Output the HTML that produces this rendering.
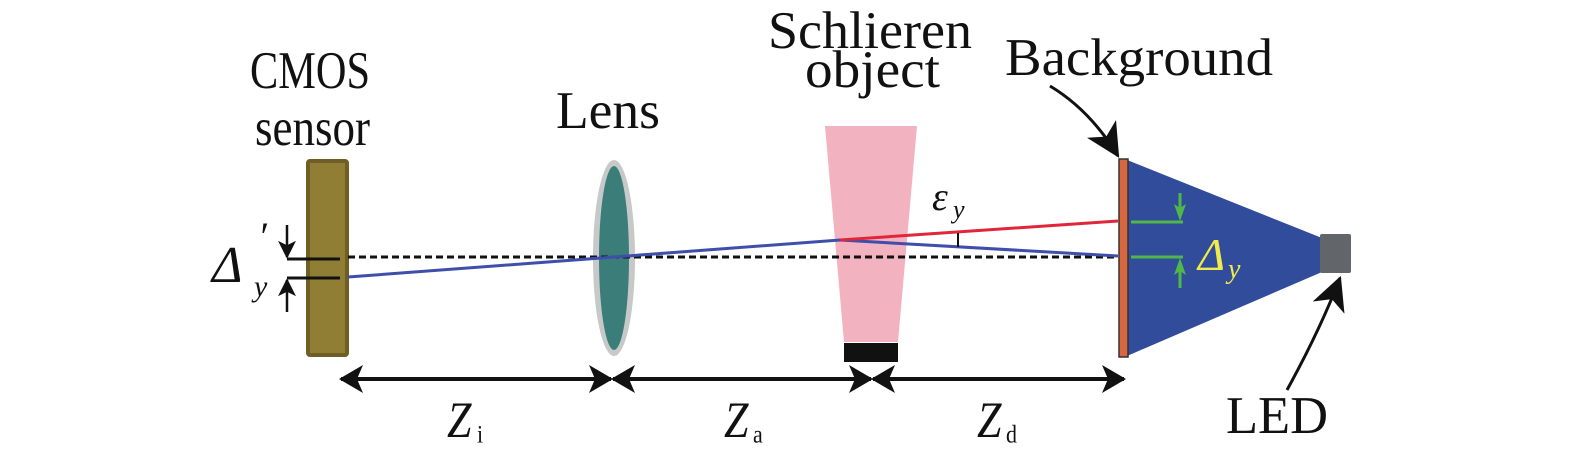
<!DOCTYPE html>
<html><head><meta charset="utf-8"><style>
html,body{margin:0;padding:0;background:#fff;width:1575px;height:456px;overflow:hidden}
text{font-family:"Liberation Serif",serif;fill:#111}
</style></head><body>
<svg width="1575" height="456" viewBox="0 0 1575 456" xmlns="http://www.w3.org/2000/svg">
<defs>
<marker id="ah" viewBox="0 0 24 28" refX="22" refY="14" markerWidth="24" markerHeight="28" markerUnits="userSpaceOnUse" orient="auto"><path d="M0,0 L24,14 L0,28 L6,14 Z" fill="#111"/></marker>
<marker id="sa" viewBox="0 0 20 20" refX="18" refY="10" markerWidth="18" markerHeight="18" markerUnits="userSpaceOnUse" orient="auto"><path d="M0,0 L20,10 L0,20 L5,10 Z" fill="#111"/></marker>
<marker id="big" viewBox="0 0 30 30" refX="28" refY="15" markerWidth="34" markerHeight="34" markerUnits="userSpaceOnUse" orient="auto"><path d="M0,0 L30,15 L0,30 L8,15 Z" fill="#111"/></marker>
</defs>
<!-- labels -->
<g transform="scale(1,1.15)">
<text x="250" y="76.5" font-size="46" textLength="120" lengthAdjust="spacingAndGlyphs">CMOS</text>
<text x="255" y="126" font-size="46" textLength="115" lengthAdjust="spacingAndGlyphs">sensor</text>
<text x="556" y="111.3" font-size="46" textLength="104" lengthAdjust="spacingAndGlyphs">Lens</text>
<text x="768" y="41.7" font-size="46" textLength="204" lengthAdjust="spacingAndGlyphs">Schlieren</text>
<text x="805" y="75.5" font-size="46" textLength="135" lengthAdjust="spacingAndGlyphs">object</text>
<text x="1005" y="65.2" font-size="46" textLength="268" lengthAdjust="spacingAndGlyphs">Background</text>
<text x="1226" y="376.5" font-size="46" textLength="102" lengthAdjust="spacingAndGlyphs">LED</text>
<text x="447" y="380" font-size="44" font-style="italic">Z</text><text x="477" y="385" font-size="22">i</text>
<text x="724" y="380" font-size="44" font-style="italic">Z</text><text x="753" y="385" font-size="22">a</text>
<text x="977" y="380" font-size="44" font-style="italic">Z</text><text x="1006" y="385" font-size="22">d</text>
</g>
<!-- sensor -->
<rect x="308" y="161" width="39" height="194" fill="#8f7e33" stroke="#6f5f25" stroke-width="4" rx="2"/>
<!-- lens -->
<ellipse cx="614" cy="258" rx="21" ry="98" fill="#c6c9c8"/>
<ellipse cx="614" cy="258" rx="15" ry="92" fill="#3a7d79"/>
<!-- schlieren -->
<polygon points="825,126 917,126 898,342 844,342" fill="#f3b2bf"/>
<rect x="844" y="343" width="54" height="19" fill="#111"/>
<!-- background triangle -->
<polygon points="1127,160 1322,238 1322,272 1127,356" fill="#324c9c"/>
<rect x="1119" y="159" width="9" height="198" fill="#d8663e" stroke="#333" stroke-width="1.5"/>
<rect x="1320" y="234" width="31" height="39" fill="#62666b" rx="2"/>
<!-- rays -->
<line x1="348" y1="257" x2="1118" y2="257" stroke="#111" stroke-width="3" stroke-dasharray="7,4"/>
<polyline points="348,277 840,240 1118,256" fill="none" stroke="#3e4eaa" stroke-width="3"/>
<line x1="840" y1="240" x2="1118" y2="221" stroke="#e0263a" stroke-width="3"/>
<line x1="958" y1="233" x2="958" y2="247" stroke="#111" stroke-width="2"/>
<text x="932" y="210" font-size="40" font-style="italic">ε</text><text x="953" y="218" font-size="26" font-style="italic">y</text>
<!-- green markers -->
<g stroke="#4fb848" stroke-width="3">
<line x1="1131" y1="222" x2="1183" y2="222"/>
<line x1="1131" y1="257" x2="1183" y2="257"/>
<line x1="1180" y1="193" x2="1180" y2="210"/>
<line x1="1180" y1="270" x2="1180" y2="288"/>
</g>
<polygon points="1174,204 1180,221 1186,204 1180,208" fill="#4fb848"/>
<polygon points="1174,275 1180,258 1186,275 1180,271" fill="#4fb848"/>
<text x="1198" y="270" font-size="46" font-style="italic" style="fill:#f0ea4a">Δ</text><text x="1228" y="278" font-size="28" font-style="italic" style="fill:#f0ea4a">y</text>
<!-- delta' -->
<line x1="287" y1="259" x2="340" y2="259" stroke="#111" stroke-width="3"/>
<line x1="287" y1="278" x2="340" y2="278" stroke="#111" stroke-width="3"/>
<line x1="287" y1="225" x2="287" y2="257" stroke="#111" stroke-width="2.5" marker-end="url(#sa)"/>
<line x1="287" y1="312" x2="287" y2="280" stroke="#111" stroke-width="2.5" marker-end="url(#sa)"/>
<text x="212" y="282" font-size="52" font-style="italic">Δ</text>
<text x="258" y="250" font-size="40" font-style="italic">′</text>
<text x="254" y="296" font-size="30" font-style="italic">y</text>
<!-- dimension arrows -->
<g stroke="#111" stroke-width="4">
<line x1="360" y1="379" x2="611" y2="379" marker-end="url(#ah)"/>
<line x1="600" y1="379" x2="341" y2="379" marker-end="url(#ah)"/>
<line x1="625" y1="379" x2="871" y2="379" marker-end="url(#ah)"/>
<line x1="860" y1="379" x2="613" y2="379" marker-end="url(#ah)"/>
<line x1="885" y1="379" x2="1124" y2="379" marker-end="url(#ah)"/>
<line x1="1110" y1="379" x2="873" y2="379" marker-end="url(#ah)"/>
</g>
<!-- curved pointers -->
<path d="M1050,86 Q1090,110 1118,156" fill="none" stroke="#111" stroke-width="3" marker-end="url(#big)"/>
<path d="M1287,390 Q1320,330 1340,278" fill="none" stroke="#111" stroke-width="3" marker-end="url(#big)"/>
</svg>
</body></html>
